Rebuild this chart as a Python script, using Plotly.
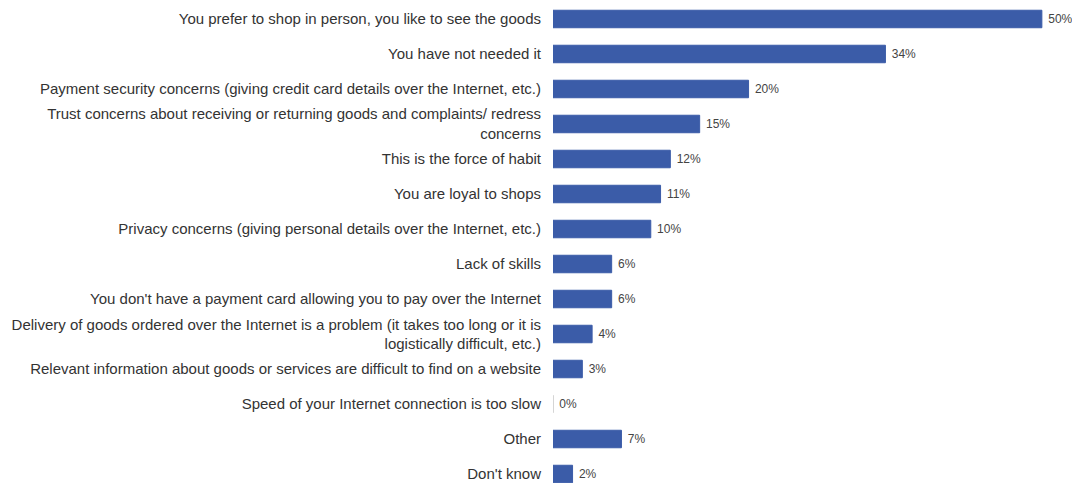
import plotly.graph_objects as go

categories = [
    "You prefer to shop in person, you like to see the goods",
    "You have not needed it",
    "Payment security concerns (giving credit card details over the Internet, etc.)",
    "Trust concerns about receiving or returning goods and complaints/ redress<br>concerns",
    "This is the force of habit",
    "You are loyal to shops",
    "Privacy concerns (giving personal details over the Internet, etc.)",
    "Lack of skills",
    "You don't have a payment card allowing you to pay over the Internet",
    "Delivery of goods ordered over the Internet is a problem (it takes too long or it is<br>logistically difficult, etc.)",
    "Relevant information about goods or services are difficult to find on a website",
    "Speed of your Internet connection is too slow",
    "Other",
    "Don't know",
]
values = [50, 34, 20, 15, 12, 11, 10, 6, 6, 4, 3, 0, 7, 2]
labels = [f"\u00a0{v}%" for v in values]

line_colors = ["#c8c8c8" if v == 0 else "#3b5ca8" for v in values]

fig = go.Figure(go.Bar(
    y=categories,
    x=values,
    orientation="h",
    width=0.5,
    marker=dict(color="#3b5ca8", line=dict(color=line_colors, width=1)),
    text=labels,
    textposition="outside",
    cliponaxis=False,
    textfont=dict(family="Liberation Sans, Arial, sans-serif", size=12, color="#444444"),
))

fig.update_layout(
    width=1072, height=475,
    margin=dict(l=545, r=0, t=0, b=0),
    paper_bgcolor="white",
    plot_bgcolor="white",
    showlegend=False,
    font=dict(family="Liberation Sans, Arial, sans-serif", size=15, color="#333333"),
    xaxis=dict(range=[0, 53.9], visible=False, showgrid=False, zeroline=False),
    yaxis=dict(
        range=[13.257, -0.314],
        showgrid=False, zeroline=False, showline=False,
        ticks="", ticklabelstandoff=11,
        tickfont=dict(size=15, color="#333333"),
        automargin=False,
    ),
)

fig.write_html("out.html")
